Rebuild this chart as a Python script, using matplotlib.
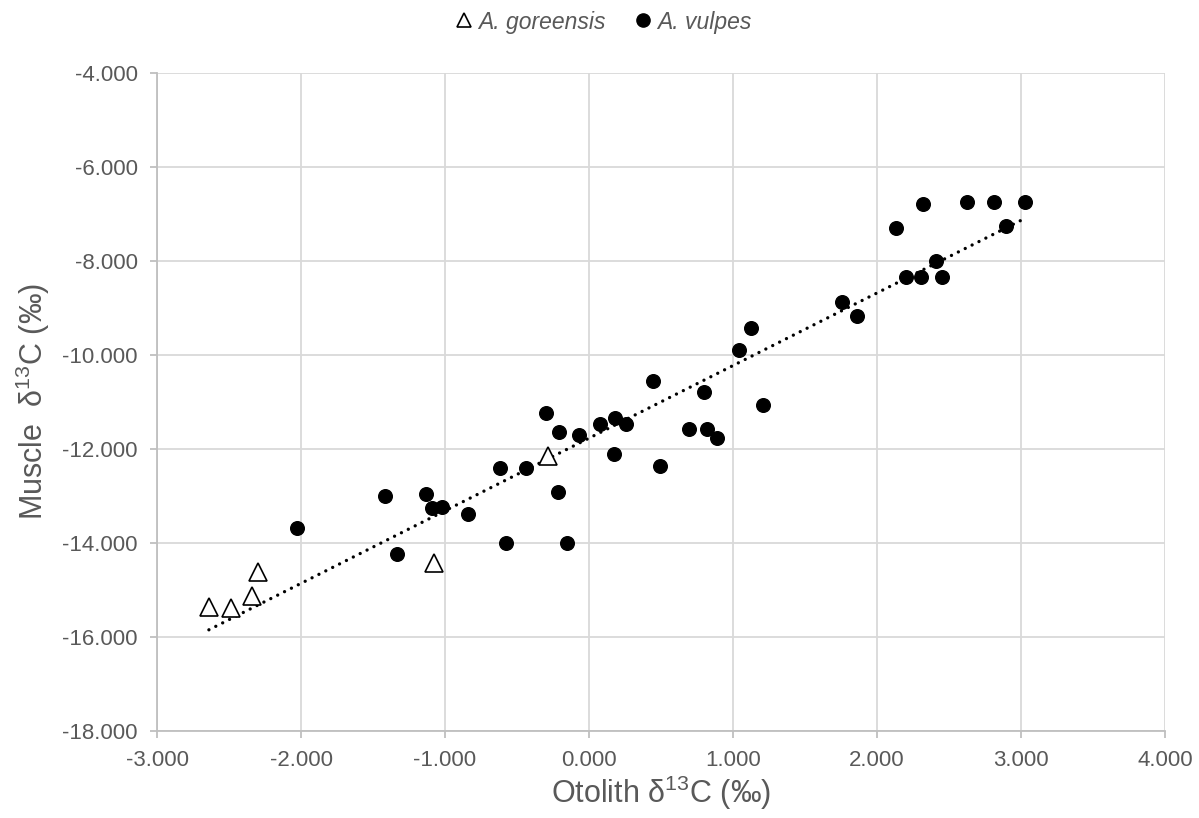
import numpy as np
import matplotlib
matplotlib.use("Agg")
import matplotlib.pyplot as plt
from matplotlib.ticker import FuncFormatter

plt.rcParams['font.family'] = ['Liberation Sans', 'DejaVu Sans']
plt.rcParams['mathtext.fontset'] = 'custom'
plt.rcParams['mathtext.rm'] = 'Liberation Sans'

# A. goreensis (triangles)
gor_x = [-2.64, -2.49, -2.34, -2.30, -1.08, -0.285]
gor_y = [-15.36, -15.38, -15.13, -14.62, -14.44, -12.16]

# A. vulpes (circles)
vul_x = [-2.026, -1.417, -1.132, -1.092, -1.023, -0.838, -1.335, -0.618, -0.437, -0.30,
         -0.208, -0.067, 0.076, 0.181, 0.257, 0.442, 0.80, 0.697, 0.822, 0.89,
         1.21, 0.171, 0.493, -0.215, -0.578, -0.155, 1.04, 1.125, 1.76, 1.863,
         2.13, 2.32, 2.622, 2.81, 3.03, 2.893, 2.407, 2.205, 2.307, 2.453]
vul_y = [-13.68, -13.0, -12.96, -13.27, -13.25, -13.39, -14.23, -12.42, -12.42, -11.25,
         -11.64, -11.71, -11.47, -11.35, -11.47, -10.55, -10.79, -11.59, -11.59, -11.77,
         -11.07, -12.11, -12.37, -12.93, -14.01, -14.01, -9.9, -9.44, -8.87, -9.17,
         -7.30, -6.79, -6.74, -6.74, -6.76, -7.26, -8.0, -8.34, -8.34, -8.34]

grey_txt = '#595959'
grid_col = '#d9d9d9'

fig = plt.figure(figsize=(11.99, 8.18), dpi=100)
ax = fig.add_axes([0.131, 0.1067, 0.8406, 0.8044])

# linear trend over all points
all_x = np.array(gor_x + vul_x)
all_y = np.array(gor_y + vul_y)
k, b = np.polyfit(all_x, all_y, 1)
tx = np.array([all_x.min(), all_x.max()])
ax.plot(tx, k * tx + b, color='black', lw=2.4, linestyle=(0, (0.01, 2.3)),
        dash_capstyle='round', zorder=2)

ax.plot(gor_x, gor_y, linestyle='none', marker='^', markersize=12.5,
        markerfacecolor='white', markeredgecolor='black', markeredgewidth=1.2,
        label='A. goreensis', zorder=3)
ax.plot(vul_x, vul_y, linestyle='none', marker='o', markersize=9.8,
        color='black', label='A. vulpes', zorder=4)

ax.set_xlim(-3, 4)
ax.set_ylim(-18, -4)
ax.set_xticks(np.arange(-3, 4.01, 1))
ax.set_yticks(np.arange(-18, -3.99, 2))
fmt = FuncFormatter(lambda v, p: '{:.3f}'.format(v))
ax.xaxis.set_major_formatter(fmt)
ax.yaxis.set_major_formatter(fmt)

ax.grid(True, color=grid_col, lw=1.3)
ax.set_axisbelow(True)
for s in ['top', 'right']:
    ax.spines[s].set_visible(False)
for s in ['left', 'bottom']:
    ax.spines[s].set_color('#bfbfbf')
    ax.spines[s].set_linewidth(1.3)
ax.tick_params(axis='both', colors='#bfbfbf', labelcolor=grey_txt, labelsize=16,
               length=5, width=1.3)
ax.tick_params(axis='x', pad=9)
ax.tick_params(axis='y', pad=9)

ax.set_xlabel('Otolith δ$^{13}$C (‰)', fontsize=22, color=grey_txt, labelpad=2)
ax.set_ylabel('Muscle  δ$^{13}$C (‰)', fontsize=22, color=grey_txt, labelpad=7)

leg = fig.legend(loc='center', bbox_to_anchor=(0.503, 1 - 22 / 818), ncol=2,
                 frameon=False, handlelength=0.8, handletextpad=0.25,
                 columnspacing=1.2, prop={'style': 'italic', 'size': 16.5})
for t in leg.get_texts():
    t.set_color(grey_txt)
for h in leg.legend_handles:
    h.set_markersize(9.5)

fig.savefig('out.png', dpi=100)
